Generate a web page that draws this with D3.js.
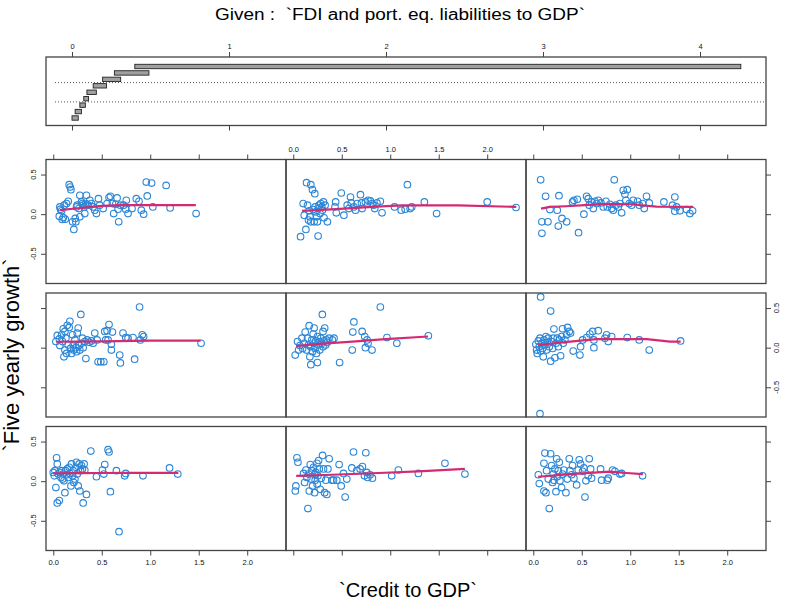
<!DOCTYPE html>
<html><head><meta charset="utf-8">
<script src="https://cdn.jsdelivr.net/npm/d3@7"></script>
<style>body{margin:0;background:#fff}svg{display:block}</style>
</head><body>
<script>
// ---- data ----
const title = "Given :  `FDI and port. eq. liabilities to GDP`";
const xLabel = "`Credit to GDP`";
const yLabel = "`Five yearly growth`";
const xTicks = [0, 0.5, 1, 1.5, 2];
const xTickLabels = ["0.0", "0.5", "1.0", "1.5", "2.0"];
const yTicks = [-0.5, 0, 0.5];
const yTickLabels = ["-0.5", "0.0", "0.5"];
const givenTicks = [0, 1, 2, 3, 4];
const givenTickLabels = ["0", "1", "2", "3", "4"];
// conditioning intervals (lowest first)
const intervalLo = [0.00, 0.02, 0.05, 0.075, 0.095, 0.135, 0.195, 0.27, 0.40];
const intervalHi = [0.04, 0.06, 0.085, 0.105, 0.155, 0.22, 0.31, 0.49, 4.26];

// panel 1 = bottom-left ... panel 9 = top-right
const panel1 = [[0.000,0.111],[0.010,0.068],[0.017,0.132],[0.027,-0.081],[0.034,0.295],[0.041,0.218],[0.041,-0.274],[0.062,-0.244],[0.051,0.090],[0.068,0.111],[0.079,0.047],[0.086,0.132],[0.096,0.026],[0.103,0.090],[0.110,0.004],[0.120,-0.145],[0.127,0.132],[0.137,0.081],[0.144,0.154],[0.154,0.047],[0.164,0.175],[0.171,0.098],[0.182,-0.060],[0.188,0.218],[0.199,0.068],[0.205,0.132],[0.212,-0.017],[0.223,0.026],[0.233,0.175],[0.240,0.239],[0.247,0.090],[0.257,-0.060],[0.267,0.218],[0.274,-0.124],[0.281,0.132],[0.291,0.197],[0.301,0.154],[0.308,-0.274],[0.318,0.218],[0.325,0.141],[0.342,-0.167],[0.387,0.380],[0.445,0.056],[0.507,0.141],[0.521,0.090],[0.531,0.209],[0.565,0.397],[0.575,0.368],[0.589,-0.132],[0.651,0.132],[0.678,-0.637],[0.736,0.068],[0.747,0.098],[0.925,0.068],[1.199,0.167],[1.284,0.090]];
const smooth1 = [[0.00,0.100],[0.25,0.102],[0.50,0.103],[0.75,0.104],[1.00,0.104],[1.29,0.105]];

const panel2 = [[0.021,-0.124],[0.027,-0.060],[0.038,0.295],[0.048,0.239],[0.106,0.098],[0.117,-0.017],[0.130,0.141],[0.141,0.047],[0.151,-0.346],[0.158,0.090],[0.165,-0.124],[0.175,0.209],[0.185,0.026],[0.192,0.132],[0.199,-0.060],[0.209,0.175],[0.220,0.081],[0.220,-0.145],[0.226,0.013],[0.233,0.111],[0.244,0.226],[0.247,-0.038],[0.254,0.068],[0.261,0.261],[0.268,0.154],[0.278,-0.103],[0.288,0.038],[0.302,0.325],[0.312,0.154],[0.323,-0.145],[0.336,0.013],[0.346,-0.167],[0.357,0.154],[0.370,0.282],[0.398,0.013],[0.415,0.013],[0.449,0.013],[0.473,0.209],[0.494,-0.060],[0.518,0.098],[0.535,-0.201],[0.552,0.026],[0.604,0.167],[0.621,0.368],[0.655,0.132],[0.689,0.154],[0.713,0.184],[0.734,0.068],[0.748,0.359],[0.758,0.111],[0.768,0.047],[0.792,0.081],[0.816,0.038],[1.015,0.068],[1.084,0.141],[1.290,0.098],[1.564,0.226],[1.770,0.090]];
const smooth2 = [[0.03,0.068],[0.40,0.081],[0.88,0.103],[1.29,0.124],[1.77,0.154]];

const panel3 = [[0.052,0.081],[0.062,-0.030],[0.110,0.226],[0.120,0.355],[0.110,-0.124],[0.131,-0.145],[0.137,0.132],[0.155,0.026],[0.165,-0.346],[0.179,0.346],[0.189,0.197],[0.199,-0.017],[0.206,0.090],[0.213,0.013],[0.223,0.154],[0.234,-0.132],[0.241,0.282],[0.247,0.056],[0.258,0.132],[0.268,0.239],[0.275,0.004],[0.292,-0.081],[0.302,0.090],[0.316,0.141],[0.337,-0.145],[0.351,0.026],[0.371,0.282],[0.378,0.132],[0.395,0.081],[0.405,0.197],[0.419,0.038],[0.447,-0.047],[0.464,0.141],[0.474,0.269],[0.488,0.218],[0.509,0.124],[0.522,0.167],[0.533,-0.201],[0.543,0.004],[0.567,0.068],[0.577,0.282],[0.591,0.154],[0.601,0.038],[0.694,0.154],[0.704,0.013],[0.763,0.013],[0.773,0.038],[0.818,0.141],[0.842,0.124],[0.893,0.090],[0.911,0.098],[1.127,0.068]];
const smooth3 = [[0.05,0.056],[0.38,0.090],[0.79,0.120],[0.96,0.103],[1.13,0.090]];

const panel4 = [[0.027,0.077],[0.041,0.154],[0.062,0.111],[0.068,0.026],[0.086,0.162],[0.096,0.077],[0.103,0.239],[0.110,-0.115],[0.120,0.205],[0.120,-0.030],[0.130,0.120],[0.137,-0.073],[0.144,0.282],[0.154,0.034],[0.164,0.256],[0.171,0.333],[0.178,-0.009],[0.188,-0.073],[0.199,0.162],[0.205,0.034],[0.212,-0.030],[0.223,0.098],[0.233,0.000],[0.240,-0.051],[0.247,0.184],[0.257,0.248],[0.264,0.026],[0.274,-0.030],[0.284,0.419],[0.291,0.056],[0.301,0.120],[0.308,0.000],[0.325,0.077],[0.336,-0.137],[0.349,0.098],[0.370,0.068],[0.394,0.085],[0.411,0.056],[0.428,0.184],[0.452,0.098],[0.462,-0.179],[0.490,-0.179],[0.521,-0.179],[0.531,0.205],[0.541,0.098],[0.555,0.214],[0.575,0.291],[0.599,0.043],[0.610,0.197],[0.599,-0.030],[0.565,0.098],[0.685,-0.094],[0.692,-0.192],[0.719,0.184],[0.747,0.128],[0.771,0.120],[0.822,0.128],[0.839,-0.145],[0.890,0.513],[0.897,0.098],[0.918,0.162],[0.932,0.141],[1.524,0.056]];
const smooth4 = [[0.03,0.075],[0.50,0.080],[1.00,0.088],[1.52,0.090]];

const panel5 = [[0.020,-0.094],[0.044,0.077],[0.055,-0.030],[0.068,0.026],[0.089,0.120],[0.096,-0.009],[0.113,0.056],[0.123,0.197],[0.137,-0.030],[0.147,0.120],[0.157,0.034],[0.164,0.278],[0.171,-0.115],[0.181,-0.214],[0.181,0.013],[0.191,0.098],[0.198,-0.051],[0.205,0.171],[0.215,0.248],[0.215,0.056],[0.225,-0.009],[0.232,0.085],[0.239,-0.073],[0.249,-0.188],[0.249,0.141],[0.259,0.034],[0.266,0.077],[0.273,-0.030],[0.283,0.120],[0.294,0.056],[0.300,0.419],[0.307,0.205],[0.307,0.013],[0.317,0.085],[0.324,0.248],[0.334,0.034],[0.341,0.098],[0.352,0.068],[0.369,0.120],[0.403,0.098],[0.420,0.120],[0.478,-0.188],[0.608,-0.030],[0.614,0.197],[0.625,0.325],[0.710,0.205],[0.737,0.141],[0.744,0.000],[0.761,0.098],[0.771,0.056],[0.812,-0.030],[0.898,0.513],[0.966,0.128],[1.068,0.056],[1.393,0.150]];
const smooth5 = [[0.03,0.021],[0.27,0.047],[0.61,0.077],[0.95,0.107],[1.39,0.141]];

const panel6 = [[0.076,0.641],[0.179,0.462],[0.069,-0.833],[0.027,0.043],[0.034,-0.030],[0.041,-0.073],[0.052,0.085],[0.062,0.013],[0.069,0.120],[0.076,-0.043],[0.086,0.056],[0.096,-0.009],[0.103,-0.115],[0.110,0.098],[0.120,0.034],[0.131,0.141],[0.137,-0.030],[0.144,0.068],[0.155,0.120],[0.165,0.013],[0.179,-0.171],[0.189,0.077],[0.199,-0.009],[0.206,0.120],[0.213,0.235],[0.223,-0.128],[0.234,0.056],[0.247,0.120],[0.258,0.013],[0.268,0.098],[0.282,-0.103],[0.292,0.141],[0.302,0.239],[0.309,0.056],[0.326,0.098],[0.344,0.162],[0.354,0.256],[0.371,0.205],[0.385,0.184],[0.412,-0.043],[0.481,-0.094],[0.488,0.013],[0.509,0.098],[0.550,0.128],[0.584,0.171],[0.612,0.205],[0.625,0.000],[0.625,0.098],[0.670,0.214],[0.739,0.120],[0.756,0.162],[0.773,0.077],[0.808,0.141],[0.969,0.128],[1.093,0.098],[1.196,-0.030],[1.519,0.085]];
const smooth6 = [[0.05,0.034],[0.21,0.056],[0.38,0.077],[0.65,0.107],[1.17,0.107],[1.41,0.077],[1.52,0.077]];

const panel7 = [[0.068,0.092],[0.075,0.063],[0.086,0.042],[0.062,-0.025],[0.103,-0.042],[0.092,-0.067],[0.123,-0.063],[0.113,0.113],[0.137,0.134],[0.154,0.163],[0.164,0.372],[0.182,0.309],[0.175,0.342],[0.199,-0.096],[0.212,-0.192],[0.226,-0.054],[0.233,-0.096],[0.240,0.092],[0.247,0.113],[0.264,0.071],[0.274,0.238],[0.274,-0.033],[0.291,0.154],[0.301,0.134],[0.308,0.113],[0.318,0.092],[0.325,0.008],[0.336,0.134],[0.342,0.238],[0.360,0.113],[0.377,0.175],[0.394,0.134],[0.411,0.092],[0.428,0.050],[0.445,0.008],[0.466,0.196],[0.479,0.113],[0.514,0.071],[0.555,0.134],[0.575,0.209],[0.589,0.225],[0.610,0.134],[0.623,0.008],[0.644,0.125],[0.658,0.205],[0.668,0.063],[0.675,-0.096],[0.692,0.113],[0.726,0.113],[0.747,0.063],[0.753,0.175],[0.771,0.008],[0.812,0.071],[0.856,0.196],[0.884,0.163],[0.908,0.050],[0.932,0.000],[0.969,0.230],[0.959,0.405],[1.014,0.392],[1.027,0.092],[1.164,0.363],[1.205,0.079],[1.473,0.008]];
const smooth7 = [[0.07,0.050],[0.25,0.075],[0.50,0.105],[0.70,0.115],[1.00,0.115],[1.47,0.115]];

const panel8 = [[0.075,-0.284],[0.102,0.134],[0.113,-0.013],[0.130,-0.192],[0.137,0.397],[0.147,0.113],[0.157,-0.075],[0.164,0.042],[0.171,-0.033],[0.181,0.372],[0.181,-0.096],[0.198,0.309],[0.205,0.058],[0.215,-0.096],[0.222,0.259],[0.225,0.092],[0.232,0.029],[0.242,-0.033],[0.249,-0.096],[0.256,-0.276],[0.259,0.071],[0.266,0.113],[0.276,0.008],[0.283,0.134],[0.294,0.092],[0.300,0.050],[0.311,0.155],[0.317,-0.046],[0.328,0.113],[0.352,-0.096],[0.430,0.092],[0.437,0.155],[0.444,0.017],[0.495,0.267],[0.522,-0.013],[0.556,0.113],[0.573,0.071],[0.590,0.217],[0.597,0.142],[0.625,0.092],[0.642,0.050],[0.659,0.134],[0.693,0.246],[0.703,0.142],[0.710,0.071],[0.744,0.155],[0.771,0.175],[0.795,0.167],[0.812,0.134],[0.829,0.113],[0.840,0.071],[0.863,0.142],[0.898,0.163],[0.915,0.017],[1.044,0.092],[1.113,0.050],[1.154,0.063],[1.177,0.372],[1.205,0.071],[1.222,0.092],[1.352,0.155],[1.478,0.008],[2.000,0.155],[2.297,0.084]];
const smooth8 = [[0.09,0.042],[0.44,0.063],[0.81,0.092],[1.12,0.110],[1.70,0.110],[2.30,0.092]];

const panel9 = [[0.076,0.434],[0.127,0.225],[0.089,-0.096],[0.151,-0.096],[0.089,-0.242],[0.172,0.058],[0.247,0.050],[0.265,0.234],[0.258,-0.150],[0.296,-0.054],[0.344,-0.096],[0.405,0.155],[0.419,0.175],[0.454,0.188],[0.467,-0.234],[0.522,0.000],[0.550,0.225],[0.567,0.196],[0.577,0.113],[0.601,0.155],[0.619,0.071],[0.636,0.163],[0.653,0.134],[0.670,0.175],[0.698,0.142],[0.722,0.092],[0.749,0.163],[0.763,0.092],[0.790,0.125],[0.808,0.071],[0.825,0.050],[0.835,0.434],[0.852,0.113],[0.876,0.092],[0.893,0.134],[0.911,0.017],[0.928,0.301],[0.945,0.251],[0.955,0.175],[0.969,0.309],[0.990,0.134],[1.014,0.113],[1.031,0.175],[1.076,0.163],[1.093,0.113],[1.127,0.134],[1.144,0.071],[1.168,0.225],[1.196,0.142],[1.347,0.155],[1.436,0.113],[1.460,0.217],[1.460,0.038],[1.478,0.092],[1.512,0.042],[1.581,0.058],[1.615,0.008],[1.643,0.042]];
const smooth9 = [[0.08,0.071],[0.17,0.092],[0.34,0.100],[0.53,0.113],[0.76,0.130],[1.00,0.125],[1.27,0.095],[1.65,0.092]];

const panels = [panel1, panel2, panel3, panel4, panel5, panel6, panel7, panel8, panel9];
const smooths = [smooth1, smooth2, smooth3, smooth4, smooth5, smooth6, smooth7, smooth8, smooth9];

// ---- layout ----
const W = 788, H = 604;
const font = "'Liberation Sans', Arial, sans-serif";
const colLeft = [46, 286, 526], panelW = 240;
const rowTop = [426.5, 293, 159.5], panelH = 124; // row index 0 = bottom
const ptColor = "#2b86d6", lineColor = "#d42a72", boxColor = "#444";

const svg = d3.select("body").append("svg").attr("width", W).attr("height", H);

svg.append("text").attr("x", 400).attr("y", 20).attr("text-anchor", "middle")
  .attr("font-family", font).attr("font-size", 16).style("white-space", "pre")
  .attr("textLength", 370).attr("lengthAdjust", "spacingAndGlyphs").text(title);

// ---- given panel ----
const gx = d3.scaleLinear().domain([0, 4]).range([72, 700]);
const gy = d3.scalePoint().domain(d3.range(1, 10)).range([118, 66.5]);
const gTop = 57, gBot = 125.5;
svg.append("rect").attr("x", colLeft[0]).attr("y", gTop).attr("width", 720).attr("height", gBot - gTop)
  .attr("fill", "none").attr("stroke", boxColor).attr("stroke-width", 1.3);
const gAxT = svg.append("g").attr("transform", `translate(0,${gTop})`)
  .call(d3.axisTop(gx).tickValues(givenTicks).tickFormat((d, i) => givenTickLabels[i]).tickSize(5).tickPadding(3));
const gAxB = svg.append("g").attr("transform", `translate(0,${gBot})`)
  .call(d3.axisBottom(gx).tickValues(givenTicks).tickFormat("").tickSize(5));
[gAxT, gAxB].forEach(a => { a.select(".domain").remove(); a.selectAll("line").attr("stroke", boxColor);
  a.selectAll("text").attr("font-family", font).attr("font-size", 7.5).attr("fill", "#111"); });
// dotted separators between rows of panels
[3.5, 6.5].forEach(k => {
  const yy = (gy(Math.floor(k)) + gy(Math.ceil(k))) / 2;
  svg.append("line").attr("x1", 55).attr("x2", 764).attr("y1", yy).attr("y2", yy)
    .attr("stroke", "#555").attr("stroke-width", 1).attr("stroke-dasharray", "1,2");
});
svg.append("g").selectAll("rect").data(d3.range(9)).join("rect")
  .attr("x", i => gx(intervalLo[i])).attr("width", i => Math.max(3, gx(intervalHi[i]) - gx(intervalLo[i])))
  .attr("y", i => gy(i + 1) - 2.2).attr("height", 4.4)
  .attr("fill", "#a0a0a0").attr("stroke", "#222").attr("stroke-width", 0.9);

// ---- panels ----
const x = d3.scaleLinear().domain([-0.075, 2.40]).range([0, panelW]);
const y = d3.scaleLinear().domain([-0.875, 0.69]).range([panelH, 0]);
const line = d3.line().x(d => x(d[0])).y(d => y(d[1]));

function styleAxis(a) {
  a.select(".domain").remove();
  a.selectAll("line").attr("stroke", boxColor);
  a.selectAll("text").attr("font-family", font).attr("font-size", 7.5).attr("fill", "#111");
}

panels.forEach((pts, i) => {
  const col = i % 3, row = Math.floor(i / 3);
  const g = svg.append("g").attr("transform", `translate(${colLeft[col]},${rowTop[row]})`);
  const clipId = "clip" + i;
  g.append("clipPath").attr("id", clipId).append("rect").attr("width", panelW).attr("height", panelH);
  const inner = g.append("g").attr("clip-path", `url(#${clipId})`);
  inner.selectAll("circle").data(pts).join("circle")
    .attr("cx", d => x(d[0])).attr("cy", d => y(d[1])).attr("r", 3.3)
    .attr("fill", "none").attr("stroke", ptColor).attr("stroke-width", 1.1);
  inner.append("path").datum(smooths[i]).attr("d", line)
    .attr("fill", "none").attr("stroke", lineColor).attr("stroke-width", 2.2);
  g.append("rect").attr("width", panelW).attr("height", panelH)
    .attr("fill", "none").attr("stroke", boxColor).attr("stroke-width", 1.3);

  if (row === 0) {
    const a = g.append("g").attr("transform", `translate(0,${panelH})`)
      .call(d3.axisBottom(x).tickValues(xTicks).tickSize(5).tickPadding(4)
        .tickFormat((d, k) => col === 1 ? "" : xTickLabels[k]));
    styleAxis(a);
  }
  if (row === 2) {
    const a = g.append("g")
      .call(d3.axisTop(x).tickValues(xTicks).tickSize(5).tickPadding(3)
        .tickFormat((d, k) => col === 1 ? xTickLabels[k] : ""));
    styleAxis(a);
  }
  if (col === 0) {
    const a = g.append("g")
      .call(d3.axisLeft(y).tickValues(yTicks).tickSize(5).tickFormat(""));
    styleAxis(a);
    if (row !== 1) {
      g.append("g").selectAll("text").data(yTicks).join("text")
        .attr("transform", (d) => `translate(-10,${y(d)}) rotate(-90)`)
        .attr("text-anchor", "middle").attr("font-family", font).attr("font-size", 7.5).attr("fill", "#111")
        .text((d, k) => yTickLabels[k]);
    }
  }
  if (col === 2) {
    const a = g.append("g").attr("transform", `translate(${panelW},0)`)
      .call(d3.axisRight(y).tickValues(yTicks).tickSize(5).tickFormat(""));
    styleAxis(a);
    if (row === 1) {
      g.append("g").selectAll("text").data(yTicks).join("text")
        .attr("transform", (d) => `translate(${panelW + 13},${y(d)}) rotate(-90)`)
        .attr("text-anchor", "middle").attr("font-family", font).attr("font-size", 7.5).attr("fill", "#111")
        .text((d, k) => yTickLabels[k]);
    }
  }
});

svg.append("text").attr("x", 408).attr("y", 597).attr("text-anchor", "middle")
  .attr("font-family", font).attr("font-size", 20).text(xLabel);
svg.append("text").attr("transform", "translate(19,355) rotate(-90)").attr("text-anchor", "middle")
  .attr("font-family", font).attr("font-size", 22).text(yLabel);
</script>
</body></html>
